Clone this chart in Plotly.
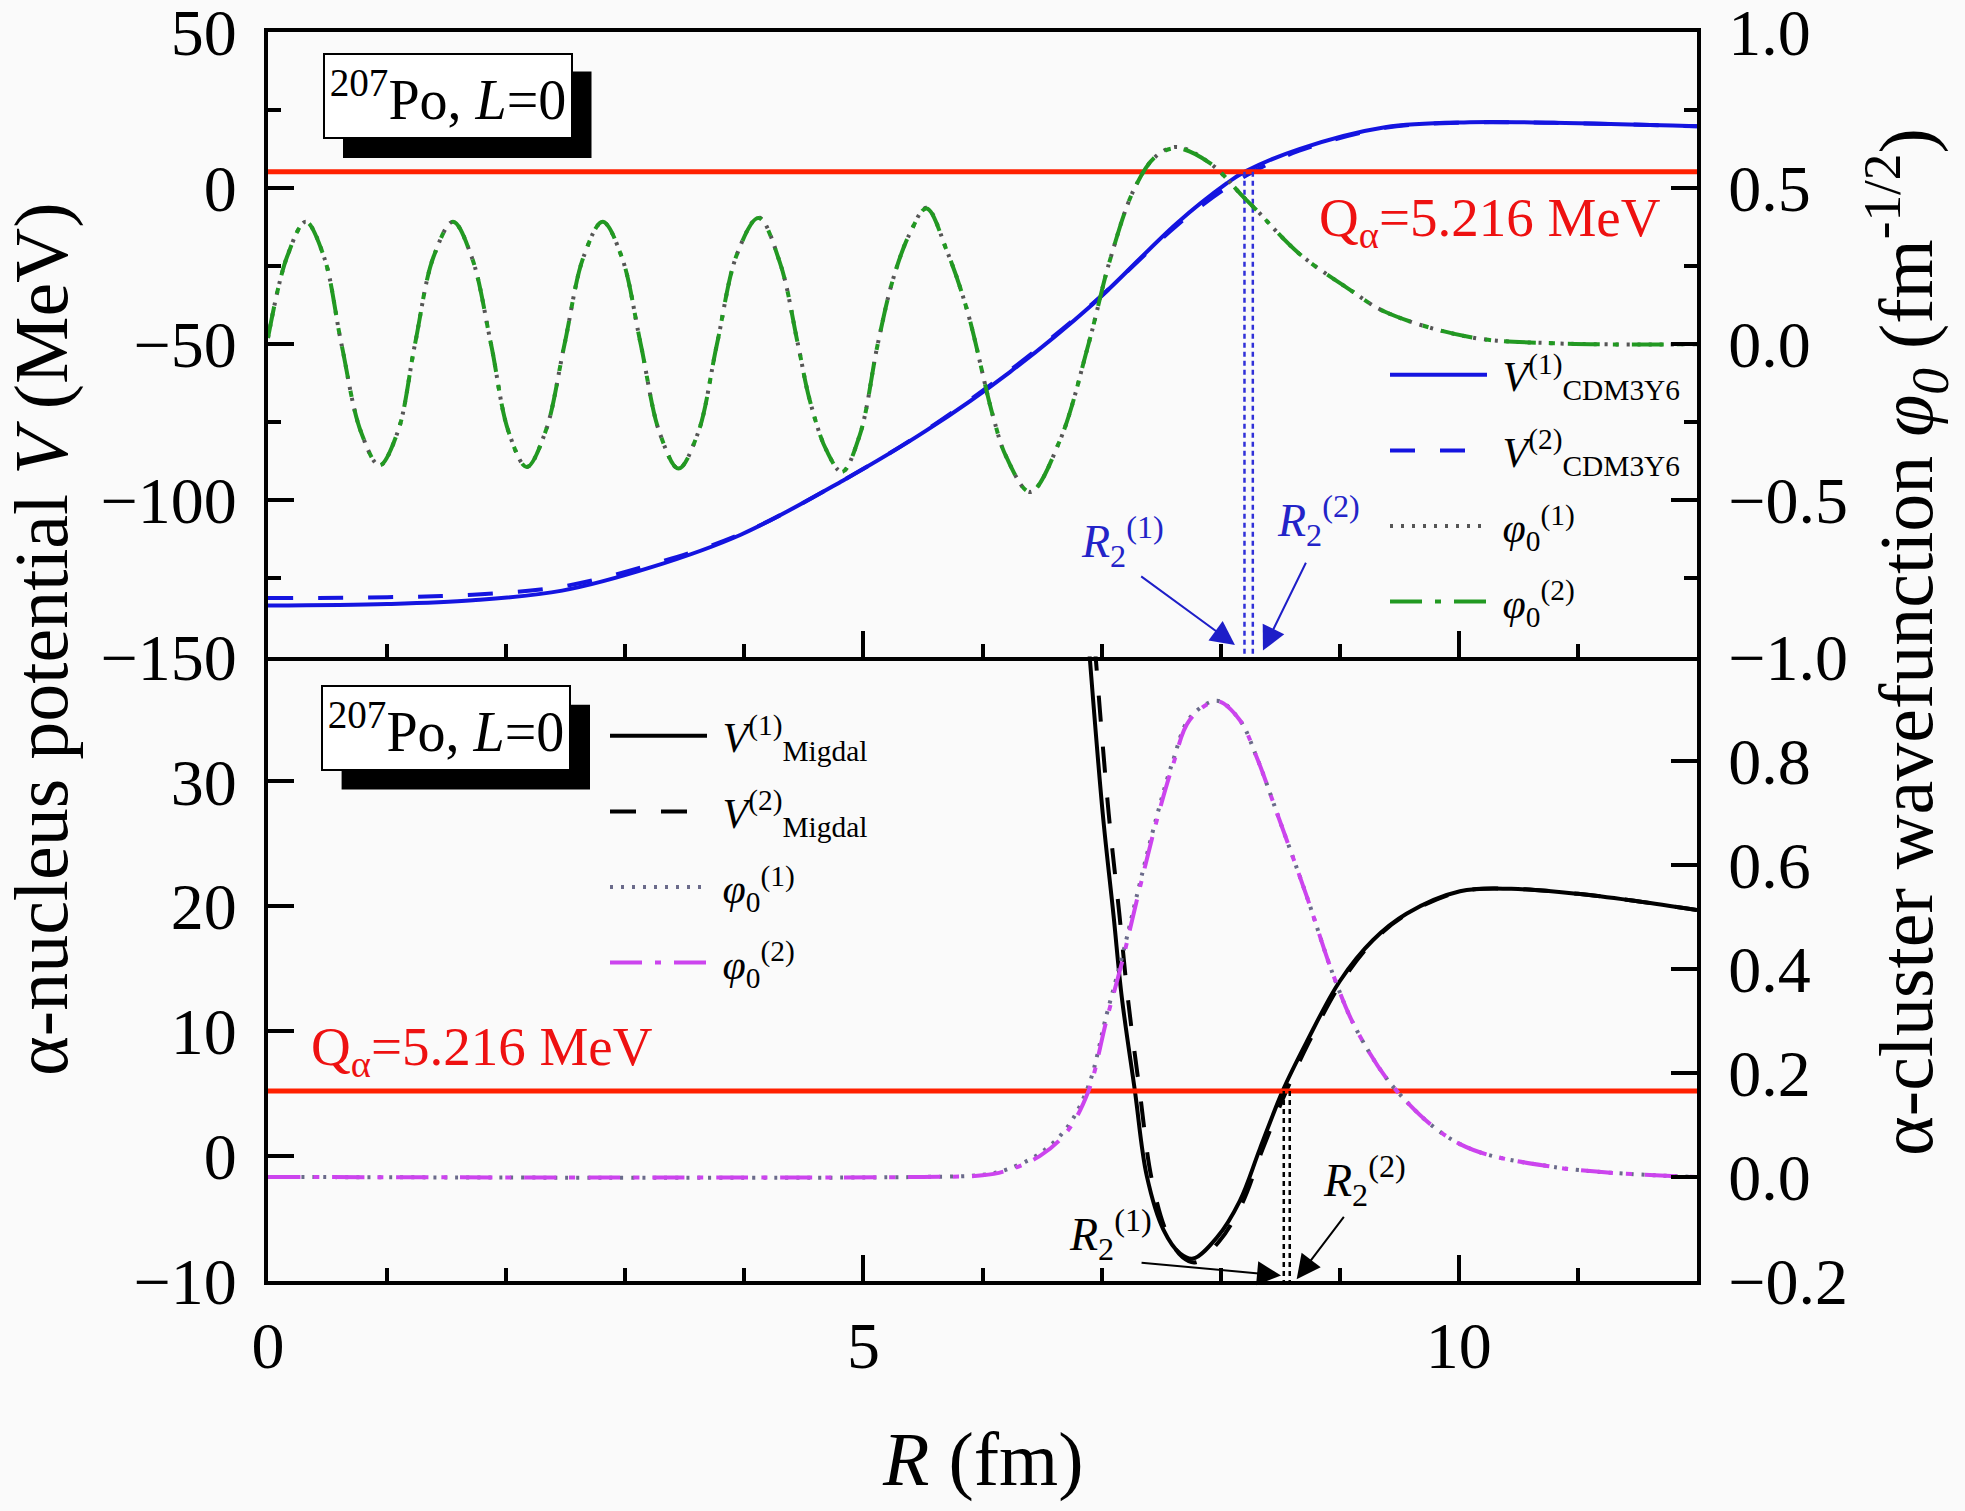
import plotly.graph_objects as go

# ---------------- data ----------------
Q_ALPHA = 5.216
R_RANGE = [0, 12]

# top panel: CDM3Y6 potentials (MeV)
R_V1_CDM = [0.0, 1.0, 1.72, 2.47, 3.22, 3.97, 4.83, 5.53, 6.23, 6.93, 7.63, 8.05, 8.20, 8.66, 9.38, 10.09, 10.8, 12.0]
V1_CDM = [-133.7, -133.2, -132.0, -128.9, -121.4, -111.0, -93.6, -77.6, -58.9, -37.0, -11.3, 1.5, 5.2, 12.5, 19.5, 21.1, 20.9, 19.8]
R_V2_CDM = [0.0, 1.0, 1.72, 2.47, 3.22, 3.97, 4.83, 5.53, 6.23, 6.93, 7.63, 8.05, 8.27, 8.66, 9.38, 10.09, 10.8, 12.0]
V2_CDM = [-131.3, -131.0, -130.2, -127.6, -120.5, -110.8, -93.6, -77.4, -58.4, -36.8, -12.0, 0.2, 5.2, 12.0, 19.3, 21.0, 20.9, 19.8]

# top panel: wavefunctions (fm^-1/2)
R_PHI_TOP = [0.0, 0.16, 0.317, 0.47, 0.617, 0.78, 0.936, 1.09, 1.234, 1.39, 1.553, 1.71, 1.873, 2.02,
             2.173, 2.33, 2.49, 2.65, 2.81, 2.97, 3.13, 3.29, 3.447, 3.61, 3.77, 3.94, 4.12, 4.30,
             4.45, 4.55, 4.69, 4.82, 4.97, 5.12, 5.25, 5.39, 5.53, 5.70, 5.87, 6.09, 6.20, 6.40,
             6.65, 6.89, 7.07, 7.27, 7.45, 7.63, 7.91, 8.19, 8.30, 8.66, 9.08, 9.38, 10.09, 10.8, 12.0]
PHI1_TOP = [0.02, 0.28, 0.392, 0.28, 0.0, -0.28, -0.388, -0.28, 0.0, 0.28, 0.392, 0.28, 0.0, -0.28,
            -0.393, -0.28, 0.0, 0.28, 0.392, 0.28, 0.0, -0.285, -0.398, -0.285, 0.0, 0.29, 0.406, 0.26,
            0.0, -0.18, -0.34, -0.409, -0.29, 0.0, 0.21, 0.355, 0.437, 0.30, 0.11, -0.233, -0.361, -0.473,
            -0.308, 0.0, 0.269, 0.494, 0.60, 0.632, 0.58, 0.472, 0.43, 0.29, 0.176, 0.104, 0.023, 0.003, 0.0]
PHI2_TOP = [0.02, 0.28, 0.392, 0.28, 0.0, -0.28, -0.388, -0.28, 0.0, 0.28, 0.392, 0.28, 0.0, -0.28,
            -0.393, -0.28, 0.0, 0.28, 0.392, 0.28, 0.0, -0.285, -0.398, -0.285, 0.0, 0.29, 0.404, 0.26,
            0.0, -0.18, -0.34, -0.409, -0.29, 0.0, 0.21, 0.355, 0.435, 0.30, 0.11, -0.233, -0.361, -0.473,
            -0.308, 0.0, 0.269, 0.494, 0.60, 0.628, 0.58, 0.472, 0.43, 0.29, 0.176, 0.104, 0.023, 0.003, 0.0]

# bottom panel: Migdal potentials (MeV)
R_V1_MIG = [6.86, 6.90, 7.01, 7.10, 7.17, 7.28, 7.38, 7.52, 7.66, 7.77, 7.97, 8.16, 8.33, 8.52,
            8.72, 9.00, 9.28, 9.56, 10.01, 10.44, 11.0, 11.5, 12.0]
V1_MIG = [45.0, 40.0, 27.4, 19.3, 12.7, 5.2, -1.6, -5.9, -7.8, -8.2, -6.5, -3.6, 0.6, 5.2,
          9.1, 14.0, 17.3, 19.4, 21.2, 21.4, 21.0, 20.4, 19.7]
R_V2_MIG = [6.91, 6.95, 7.06, 7.15, 7.22, 7.32, 7.42, 7.55, 7.68, 7.79, 7.99, 8.18, 8.35, 8.55,
            8.74, 9.02, 9.29, 9.57, 10.02, 10.44, 11.0, 11.5, 12.0]
V2_MIG = [45.0, 40.0, 27.4, 19.3, 12.7, 5.2, -1.8, -6.2, -8.1, -8.5, -6.8, -3.8, 0.5, 5.2,
          9.1, 14.0, 17.3, 19.4, 21.2, 21.4, 21.0, 20.4, 19.7]

# bottom panel: wavefunctions (fm^-1/2)
R_PHI_BOT = [0.0, 5.5, 6.0, 6.2, 6.48, 6.71, 6.89, 7.04, 7.18, 7.29, 7.46, 7.60, 7.74, 7.97,
             8.16, 8.30, 8.50, 8.72, 8.95, 9.14, 9.48, 10.01, 10.8, 12.0]
PHI1_BOT = [0.0, 0.0, 0.004, 0.014, 0.045, 0.095, 0.175, 0.31, 0.43, 0.535, 0.69, 0.80, 0.882, 0.915,
            0.878, 0.808, 0.682, 0.541, 0.385, 0.283, 0.165, 0.063, 0.019, 0.0]
PHI2_BOT = [0.0, 0.0, 0.003, 0.012, 0.04, 0.087, 0.165, 0.30, 0.42, 0.526, 0.682, 0.792, 0.878, 0.914,
            0.878, 0.808, 0.682, 0.541, 0.385, 0.283, 0.165, 0.063, 0.019, 0.0]

# classical turning points R2
R2_TOP = [8.20, 8.27]
R2_BOT = [8.53, 8.58]

# axis ticks
X_TICKS = [0, 5, 10]
Y_TOP_TICKS = [-150, -100, -50, 0, 50]
Y_TOP_LABELS = ["\u2212150", "\u2212100", "\u221250", "0", "50"]
Y4_TICKS = [-1.0, -0.5, 0.0, 0.5, 1.0]
Y4_LABELS = ["\u22121.0", "\u22120.5", "0.0", "0.5", "1.0"]
Y_BOT_TICKS = [-10, 0, 10, 20, 30]
Y_BOT_LABELS = ["\u221210", "0", "10", "20", "30"]
Y2_TICKS = [-0.2, 0.0, 0.2, 0.4, 0.6, 0.8]
Y2_LABELS = ["\u22120.2", "0.0", "0.2", "0.4", "0.6", "0.8"]

# ---------------- style ----------------
SERIF = "Liberation Serif"
BLUE = "#1414e0"
GREEN = "#229922"
GRAY = "#555555"
MAGENTA = "#cc44ee"
GRAY2 = "#6a6a8a"
RED = "#ff2000"
REDTXT = "#ee1111"
BG = "#fafafa"

W, H = 1965, 1511
PL, PR, PT, PB = 268, 1697, 32, 1281


def px(a):
    return (a - PL) / (PR - PL)


def py(a):
    return (PB - a) / (PB - PT)


fig = go.Figure()

LW = 4
DASH = "25px,25px"
DOT = "3px,8px"
DASHDOT = "32px,13px,6px,13px"
SPL = dict(shape="spline", smoothing=1.0)

# ---- top panel ----
fig.add_trace(go.Scatter(x=R_V1_CDM, y=V1_CDM, xaxis="x2", yaxis="y3", mode="lines",
                         line=dict(color=BLUE, width=LW, **SPL),
                         name="&nbsp;<i>V</i><sup>(1)</sup><sub>CDM3Y6</sub>", legend="legend", legendgroup="t1"))
fig.add_trace(go.Scatter(x=R_V2_CDM, y=V2_CDM, xaxis="x2", yaxis="y3", mode="lines",
                         line=dict(color=BLUE, width=LW, dash=DASH, **SPL),
                         name="&nbsp;<i>V</i><sup>(2)</sup><sub>CDM3Y6</sub>", legend="legend", legendgroup="t2"))
fig.add_trace(go.Scatter(x=R_RANGE, y=[Q_ALPHA, Q_ALPHA], xaxis="x2", yaxis="y3", mode="lines",
                         line=dict(color=RED, width=5), showlegend=False, hoverinfo="skip"))
for r in R2_TOP:
    fig.add_trace(go.Scatter(x=[r, r], y=[Q_ALPHA, Y_TOP_TICKS[0]], xaxis="x2", yaxis="y3", mode="lines",
                             line=dict(color="#3030d8", width=2.5, dash="5px,4px"), showlegend=False,
                             hoverinfo="skip"))
fig.add_trace(go.Scatter(x=R_PHI_TOP, y=PHI1_TOP, xaxis="x2", yaxis="y4", mode="lines",
                         line=dict(color=GRAY, width=LW, dash=DOT, **SPL),
                         name="&nbsp;<i>\u03c6</i><sub>0</sub><sup>(1)</sup>", legend="legend", legendgroup="t3"))
fig.add_trace(go.Scatter(x=R_PHI_TOP, y=PHI2_TOP, xaxis="x2", yaxis="y4", mode="lines",
                         line=dict(color=GREEN, width=LW, dash=DASHDOT, **SPL),
                         name="&nbsp;<i>\u03c6</i><sub>0</sub><sup>(2)</sup>", legend="legend", legendgroup="t4"))

# ---- bottom panel ----
fig.add_trace(go.Scatter(x=R_V1_MIG, y=V1_MIG, xaxis="x", yaxis="y", mode="lines",
                         line=dict(color="black", width=LW, **SPL),
                         name="&nbsp;<i>V</i><sup>(1)</sup><sub>Migdal</sub>", legend="legend2", legendgroup="b1"))
fig.add_trace(go.Scatter(x=R_V2_MIG, y=V2_MIG, xaxis="x", yaxis="y", mode="lines",
                         line=dict(color="black", width=LW, dash="26px,25px", **SPL),
                         name="&nbsp;<i>V</i><sup>(2)</sup><sub>Migdal</sub>", legend="legend2", legendgroup="b2"))
fig.add_trace(go.Scatter(x=R_RANGE, y=[Q_ALPHA, Q_ALPHA], xaxis="x", yaxis="y", mode="lines",
                         line=dict(color=RED, width=5), showlegend=False, hoverinfo="skip"))
for r in R2_BOT:
    fig.add_trace(go.Scatter(x=[r, r], y=[Q_ALPHA, Y_BOT_TICKS[0]], xaxis="x", yaxis="y", mode="lines",
                             line=dict(color="black", width=2.5, dash="5px,4px"), showlegend=False,
                             hoverinfo="skip"))
fig.add_trace(go.Scatter(x=R_PHI_BOT, y=PHI1_BOT, xaxis="x", yaxis="y2", mode="lines",
                         line=dict(color=GRAY2, width=LW, dash=DOT, **SPL),
                         name="&nbsp;<i>\u03c6</i><sub>0</sub><sup>(1)</sup>", legend="legend2", legendgroup="b3"))
fig.add_trace(go.Scatter(x=R_PHI_BOT, y=PHI2_BOT, xaxis="x", yaxis="y2", mode="lines",
                         line=dict(color=MAGENTA, width=LW, dash=DASHDOT, **SPL),
                         name="&nbsp;<i>\u03c6</i><sub>0</sub><sup>(2)</sup>", legend="legend2", legendgroup="b4"))

TICKFONT = dict(family=SERIF, size=66, color="black")
base = dict(showline=True, linecolor="black", linewidth=4, ticks="inside", ticklen=26,
            tickwidth=4, tickcolor="black", showgrid=False, zeroline=False, tickfont=TICKFONT,
            ticklabeloverflow="allow", automargin=False)
MINOR = dict(ticks="inside", ticklen=13, tickwidth=4, tickcolor="black", showgrid=False)

fig.update_layout(
    width=W, height=H,
    margin=dict(l=PL, r=W - PR, t=PT, b=H - PB, autoexpand=False),
    paper_bgcolor=BG, plot_bgcolor=BG,
    font=dict(family=SERIF, color="black"),
    xaxis=dict(domain=[0, 1], anchor="y", range=R_RANGE, tickvals=X_TICKS,
               ticktext=[str(v) for v in X_TICKS], ticklabelstandoff=4,
               minor=dict(dtick=1, tick0=0, **MINOR), **base),
    xaxis2=dict(domain=[0, 1], anchor="y3", matches="x", range=R_RANGE, tickvals=X_TICKS,
                showticklabels=False, mirror=True,
                minor=dict(dtick=1, tick0=0, **MINOR), **base),
    yaxis=dict(domain=[0, 0.5], anchor="x", range=[-10, 40], tickvals=Y_BOT_TICKS, ticktext=Y_BOT_LABELS,
               ticklabelstandoff=14, **base),
    yaxis2=dict(domain=[0, 0.5], anchor="x", overlaying="y", side="right", range=[-0.2, 1.0],
                tickvals=Y2_TICKS, ticktext=Y2_LABELS, ticklabelstandoff=14, **base),
    yaxis3=dict(domain=[0.5, 1], anchor="x2", range=[-150, 50], tickvals=Y_TOP_TICKS, ticktext=Y_TOP_LABELS,
                ticklabelstandoff=14, minor=dict(dtick=25, tick0=0, **MINOR), **base),
    yaxis4=dict(domain=[0.5, 1], anchor="x2", overlaying="y3", side="right", range=[-1.0, 1.0],
                tickvals=Y4_TICKS, ticktext=Y4_LABELS, ticklabelstandoff=14,
                minor=dict(dtick=0.25, tick0=0, **MINOR), **base),
    legend=dict(x=px(1385), y=py(341), xanchor="left", yanchor="top", bgcolor="rgba(0,0,0,0)",
                font=dict(family=SERIF, size=42, color="black"), itemwidth=97,
                traceorder="grouped", tracegroupgap=18),
    legend2=dict(x=px(605), y=py(702), xanchor="left", yanchor="top", bgcolor="rgba(0,0,0,0)",
                 font=dict(family=SERIF, size=42, color="black"), itemwidth=97,
                 traceorder="grouped", tracegroupgap=18),
    showlegend=True,
)

# shadow boxes behind the nucleus labels
for (x0, y0, x1, y1) in [(343, 71.5, 591.5, 158), (341.6, 704.8, 590, 789.6)]:
    fig.add_shape(type="rect", xref="paper", yref="paper", x0=px(x0), x1=px(x1), y0=py(y1), y1=py(y0),
                  fillcolor="black", line=dict(width=0), layer="above")

ann = []
for (cx, cy) in [(448, 96.3), (446.3, 728.3)]:
    ann.append(dict(text="<sup>207</sup>Po, <i>L</i>=0", xref="paper", yref="paper", x=px(cx), y=py(cy),
                    xanchor="center", yanchor="middle", showarrow=False, bgcolor="white",
                    bordercolor="black", borderwidth=2, borderpad=0, width=246, height=82,
                    font=dict(family=SERIF, size=56, color="black")))

# Q_alpha labels
ann.append(dict(text="Q<sub>\u03b1</sub>=5.216 MeV", xref="paper", yref="paper", x=px(1490), y=py(222),
                xanchor="center", yanchor="middle", showarrow=False,
                font=dict(family=SERIF, size=55, color=REDTXT)))
ann.append(dict(text="Q<sub>\u03b1</sub>=5.216 MeV", xref="paper", yref="paper", x=px(482), y=py(1050),
                xanchor="center", yanchor="middle", showarrow=False,
                font=dict(family=SERIF, size=55, color=REDTXT)))

# R2 labels
R2BLUE = "#2323c8"
for (txt, cx, cy, col) in [("<i>R</i><sub>2</sub><sup>(1)</sup>", 1122, 541, R2BLUE),
                           ("<i>R</i><sub>2</sub><sup>(2)</sup>", 1318, 520, R2BLUE),
                           ("<i>R</i><sub>2</sub><sup>(1)</sup>", 1110, 1234, "black"),
                           ("<i>R</i><sub>2</sub><sup>(2)</sup>", 1364, 1180, "black")]:
    ann.append(dict(text=txt, xref="paper", yref="paper", x=px(cx), y=py(cy), xanchor="center",
                    yanchor="middle", showarrow=False, font=dict(family=SERIF, size=46, color=col)))

# arrows (tail -> tip), data coordinates
for (xr, yr, tip, tail, col) in [("x2", "y3", (8.12, -146.3), (7.32, -124.0), "#1e1ec8"),
                                 ("x2", "y3", (8.355, -148.1), (8.722, -119.5), "#1e1ec8"),
                                 ("x", "y", (8.507, -9.56), (7.323, -8.52), "black"),
                                 ("x", "y", (8.638, -9.85), (9.044, -4.75), "black")]:
    ann.append(dict(text="", xref=xr, yref=yr, x=tip[0], y=tip[1], axref=xr, ayref=yr, ax=tail[0], ay=tail[1],
                    showarrow=True, arrowhead=2, arrowsize=2.4, arrowwidth=2, arrowcolor=col, standoff=0))

# axis titles
TITLEFONT = dict(family=SERIF, size=76, color="black")
ann.append(dict(text="\u03b1-nucleus potential <i>V</i> (MeV)", xref="paper", yref="paper",
                x=px(41), y=py(640), xanchor="center", yanchor="middle", textangle=-90,
                showarrow=False, font=TITLEFONT))
ann.append(dict(text="\u03b1-cluster wavefunction <i>\u03c6<sub>0</sub></i> (fm<sup>-1/2</sup>)",
                xref="paper", yref="paper", x=px(1906), y=py(642), xanchor="center", yanchor="middle",
                textangle=-90, showarrow=False, font=TITLEFONT))
ann.append(dict(text="<i>R</i> (fm)", xref="paper", yref="paper", x=0.5, y=py(1459), xanchor="center",
                yanchor="middle", showarrow=False, font=TITLEFONT))

fig.update_layout(annotations=ann)

fig.write_html("out.html", config={"displayModeBar": False},
               post_script="document.body.style.margin='0';document.body.style.background='" + BG + "';")
